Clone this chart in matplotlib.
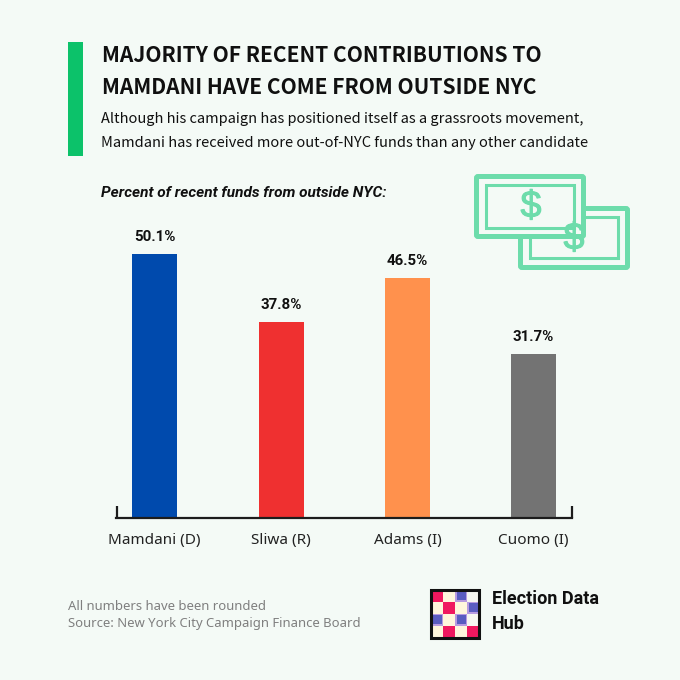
import matplotlib
matplotlib.use("Agg")
import matplotlib.pyplot as plt
import matplotlib.patheffects as pe
from matplotlib.patches import Rectangle, FancyBboxPatch

W = H = 680
BG = "#f4faf6"
GREEN = "#0cc26a"
MINT = "#6ddcab"
INK = "#101010"

categories = ["Mamdani (D)", "Sliwa (R)", "Adams (I)", "Cuomo (I)"]
value_labels = ["50.1%", "37.8%", "46.5%", "31.7%"]
bar_heights = [50.9, 37.8, 46.3, 31.6]   # as drawn in the picture
bar_colors = ["#004aad", "#ef3030", "#ff914d", "#737373"]
title_lines = ["MAJORITY OF RECENT CONTRIBUTIONS TO", "MAMDANI HAVE COME FROM OUTSIDE NYC"]
subtitle_lines = ["Although his campaign has positioned itself as a grassroots movement,",
                  "Mamdani has received more out-of-NYC funds than any other candidate"]
chart_title = "Percent of recent funds from outside NYC:"
notes = ["All numbers have been rounded", "Source: New York City Campaign Finance Board"]
brand_lines = ["Election Data", "Hub"]

HEAD = "Noto Sans CJK SC"

fig = plt.figure(figsize=(W / 100, H / 100), dpi=100, facecolor=BG)
bg = fig.add_axes([0, 0, 1, 1])
bg.set_xlim(0, W); bg.set_ylim(H, 0); bg.axis("off")

# header
bg.add_patch(Rectangle((68, 42), 15, 114, fc=GREEN, ec="none"))
for y, s in zip([56, 87], title_lines):
    bg.text(102, y, s, fontsize=15.1, fontweight="bold", family=HEAD, color=INK, va="center")
for y, s in zip([119, 143], subtitle_lines):
    bg.text(101, y, s, fontsize=10.5, family=HEAD, color=INK, va="center")
bg.text(101, 193, chart_title, fontsize=11.05, fontweight="bold", style="italic", family="Roboto", color=INK, va="center")

# chart
ax = fig.add_axes([116 / W, 1 - 518 / H, (572.5 - 116) / W, (518 - 218) / H])
ax.set_facecolor("none")
scale = 5.18
ax.set_ylim(0, 300 / scale)
ax.set_xlim(116, 572.5)
centers = [154.5, 281, 407.5, 533.5]
ax.bar(centers, bar_heights, width=45, color=bar_colors)
for c, h, s in zip(centers, bar_heights, value_labels):
    ax.text(c, h + 17.5 / scale, s, ha="center", va="center", fontsize=10.8, fontweight="bold", family="Roboto", color=INK)
for sp in ["top", "right", "left"]:
    ax.spines[sp].set_visible(False)
ax.spines["bottom"].set_linewidth(1.6)
ax.spines["bottom"].set_color("#1c1c1c")
ax.set_yticks([])
ax.set_xticks(centers, categories, fontsize=11, family="Noto Sans", color="#222222")
ax.tick_params(axis="x", length=0, pad=11)
for x in [116.7, 571.8]:
    ax.plot([x, x], [0, 12 / scale], color="#1c1c1c", lw=1.6, clip_on=False, solid_capstyle="butt")

# money icon: back bill, then front bill over it
dollar = dict(fontsize=27, color=MINT, ha="center", va="center", family="Liberation Sans",
              path_effects=[pe.withStroke(linewidth=0.8, foreground=MINT)])
bg.add_patch(FancyBboxPatch((520.5, 208.5), 107, 59, boxstyle="round,pad=0,rounding_size=1.5", fc=BG, ec=MINT, lw=3.6))
bg.add_patch(Rectangle((530, 217), 88, 41, fc="none", ec=MINT, lw=2.2))
bg.text(574, 239, "$", **dollar)
bg.add_patch(FancyBboxPatch((476.5, 176.5), 107, 60, boxstyle="round,pad=0,rounding_size=1.5", fc=BG, ec=MINT, lw=3.6))
bg.add_patch(Rectangle((486, 185), 88, 43, fc=BG, ec=MINT, lw=2.2))
bg.text(531, 207, "$", **dollar)

# notes
for y, s in zip([607, 624], notes):
    bg.text(68, y, s, fontsize=9.45, family="Noto Sans", color="#7f7f7f", va="center")

# logo
lx, ly, cell = 431, 589.5, 12
pink = "#f0185f"; cream = "#fff6dc"; white = "#f6f6f0"
pat = [[pink, cream, "b", white],
       [cream, pink, cream, "b"],
       ["b", cream, "b", white],
       [cream, pink, cream, pink]]
for r, row in enumerate(pat):
    for c, col in enumerate(row):
        if col == "b":
            bg.add_patch(Rectangle((lx + c * cell, ly + r * cell), cell, cell, fc="#b79ae0", ec="none"))
            bg.add_patch(Rectangle((lx + c * cell + 1.5, ly + r * cell + 1.5), cell - 3, cell - 3, fc="#5a5cc0", ec="none"))
        else:
            bg.add_patch(Rectangle((lx + c * cell, ly + r * cell), cell, cell, fc=col, ec="none"))
bg.add_patch(Rectangle((lx, ly), 4 * cell, 4 * cell, fc="none", ec="#111111", lw=2.2))
for y, s in zip([599, 624], brand_lines):
    bg.text(492, y, s, fontsize=13, fontweight="bold", family="Roboto", color=INK, va="center")

fig.savefig("out.png", dpi=100, facecolor=BG)
